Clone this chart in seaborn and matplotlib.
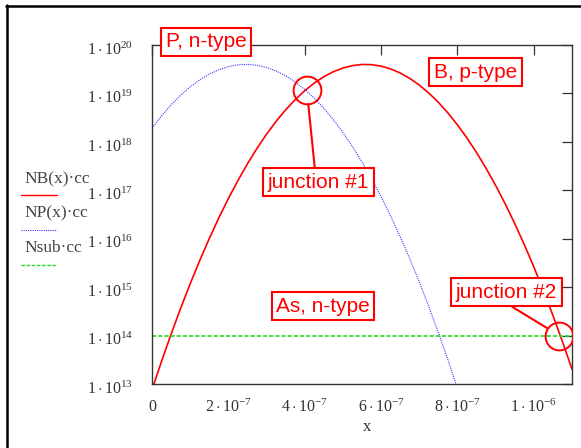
import numpy as np
import pandas as pd
import matplotlib
matplotlib.use('Agg')
import matplotlib.pyplot as plt
from matplotlib.lines import Line2D
from matplotlib.transforms import ScaledTranslation
import seaborn as sns

# ========== data ==========
# x in units of 1e-7 m, concentrations as log10(cm^-3)
x_nb_e7 = [0.0, 0.25, 0.5, 0.75, 1.0, 1.25, 1.5, 1.75, 2.0, 2.25, 2.5, 2.75, 3.0, 3.25,
           3.5, 3.75, 4.0, 4.25, 4.5, 4.75, 5.0, 5.25, 5.5, 5.75, 6.0, 6.25, 6.5, 6.75,
           7.0, 7.25, 7.5, 7.75, 8.0, 8.25, 8.5, 8.75, 9.0, 9.25, 9.5, 9.75, 10.0,
           10.25, 10.5, 10.75, 11.0]
nb_log10 = [12.882, 13.469, 14.030, 14.563, 15.070, 15.550, 16.003, 16.430, 16.829,
            17.201, 17.547, 17.866, 18.158, 18.423, 18.661, 18.872, 19.056, 19.214,
            19.345, 19.448, 19.525, 19.575, 19.598, 19.594, 19.564, 19.506, 19.422,
            19.311, 19.173, 19.008, 18.816, 18.597, 18.351, 18.079, 17.779, 17.453,
            17.100, 16.720, 16.313, 15.879, 15.419, 14.931, 14.417, 13.875, 13.307]

x_np_e7 = [0.0, 0.25, 0.5, 0.75, 1.0, 1.25, 1.5, 1.75, 2.0, 2.25, 2.5, 2.75, 3.0, 3.25,
           3.5, 3.75, 4.0, 4.25, 4.5, 4.75, 5.0, 5.25, 5.5, 5.75, 6.0, 6.25, 6.5, 6.75,
           7.0, 7.25, 7.5, 7.75, 8.0]
np_log10 = [18.281, 18.535, 18.763, 18.963, 19.135, 19.281, 19.399, 19.490, 19.554,
            19.590, 19.600, 19.582, 19.536, 19.464, 19.364, 19.237, 19.083, 18.902,
            18.693, 18.457, 18.194, 17.903, 17.585, 17.240, 16.868, 16.469, 16.042,
            15.588, 15.107, 14.598, 14.062, 13.499, 12.909]

x_sub_e7 = [0.0, 11.0]
nsub_log10 = [14.0, 14.0]

junction_x_e7 = [4.055, 10.67]
junction_log10 = [19.07, 14.0]

x_ticks = [0, 2e-7, 4e-7, 6e-7, 8e-7, 1e-6]
x_tick_labels = ['0', r'$2\cdot10^{-7}$', r'$4\cdot10^{-7}$', r'$6\cdot10^{-7}$',
                 r'$8\cdot10^{-7}$', r'$1\cdot10^{-6}$']
y_exponents = [13, 14, 15, 16, 17, 18, 19, 20]

df_nb = pd.DataFrame({'x': np.array(x_nb_e7) * 1e-7, 'conc': 10.0 ** np.array(nb_log10)})
df_np = pd.DataFrame({'x': np.array(x_np_e7) * 1e-7, 'conc': 10.0 ** np.array(np_log10)})
df_sub = pd.DataFrame({'x': np.array(x_sub_e7) * 1e-7, 'conc': 10.0 ** np.array(nsub_log10)})

# ========== style ==========
sns.set_style('white')
plt.rcParams['font.family'] = ['Liberation Serif', 'DejaVu Serif']
plt.rcParams['mathtext.fontset'] = 'custom'
plt.rcParams['mathtext.rm'] = 'Liberation Serif'
plt.rcParams['mathtext.it'] = 'Liberation Serif:italic'

W, H = 581, 448
fig = plt.figure(figsize=(W / 100, H / 100), dpi=100)
ax = fig.add_axes([152 / W, (H - 384) / H, 420 / W, 339 / H])

red = '#ff0000'
blue = '#3838ff'
green = '#22dd22'
gray = '#333333'

sns.lineplot(data=df_nb, x='x', y='conc', ax=ax, color=red, linewidth=1.2)
sns.lineplot(data=df_np, x='x', y='conc', ax=ax, color=blue, linewidth=0.8,
             linestyle=(0, (1, 1)))
sns.lineplot(data=df_sub, x='x', y='conc', ax=ax, color=green, linewidth=1.2,
             linestyle=(0, (2.5, 1.2)))

ax.set_yscale('log')
ax.set_xlim(0, 1.1e-6)
ax.set_ylim(1e13, 1e20)
ax.set_xticks(x_ticks)
ax.set_xticklabels(x_tick_labels)
ax.set_yticks([10.0 ** e for e in y_exponents])
ax.set_yticklabels([r'$1\cdot10^{%d}$' % e for e in y_exponents])
ax.yaxis.set_minor_locator(matplotlib.ticker.NullLocator())
ax.tick_params(axis='both', which='major', direction='in', length=7.2, width=0.9,
               color=gray, labelcolor=gray, labelsize=11.5)
ax.tick_params(axis='x', top=True, pad=10.5)
ax.tick_params(axis='y', right=True, pad=13.5)
for s in ax.spines.values():
    s.set_color(gray)
    s.set_linewidth(1.0)

# Mathcad puts the mantissa a little below the tick
shift = ScaledTranslation(0, -3 / 100, fig.dpi_scale_trans)
for lab in ax.get_yticklabels():
    lab.set_transform(lab.get_transform() + shift)

ax.set_ylabel('')
ax.set_xlabel('x', fontsize=12, color=gray)
ax.xaxis.set_label_coords((367 - 152) / 420, (384 - 431) / 339)
ax.xaxis.label.set_va('baseline')

# junction circles
ax.plot(np.array(junction_x_e7) * 1e-7, 10.0 ** np.array(junction_log10), linestyle='none',
        marker='o', markersize=20, markerfacecolor='none', markeredgecolor=red,
        markeredgewidth=1.4, zorder=5)

box = dict(boxstyle='square,pad=0.22', fc='white', ec=red, lw=1.5)
lab_font = dict(fontsize=15, color=red, family=['Liberation Sans', 'DejaVu Sans'])


def fx(px):
    return px / W


def fy(py):
    return (H - py) / H


fig.text(fx(206), fy(41.7), 'P, n-type', ha='center', va='center', bbox=box, **lab_font)
fig.text(fx(475.5), fy(72), 'B, p-type', ha='center', va='center', bbox=box, **lab_font)
fig.text(fx(323), fy(306), 'As, n-type', ha='center', va='center', bbox=box, **lab_font)

ax.annotate('junction #1', xy=(junction_x_e7[0] * 1e-7, 10.0 ** junction_log10[0]),
            xytext=(318.3, H - 182), textcoords='figure pixels', ha='center', va='center',
            bbox=box, arrowprops=dict(arrowstyle='-', color=red, lw=1.5, relpos=(0.47, 1.0),
                                      shrinkA=0, shrinkB=10), zorder=6, **lab_font)
ax.annotate('junction #2', xy=(junction_x_e7[1] * 1e-7, 10.0 ** junction_log10[1]),
            xytext=(506.5, H - 292), textcoords='figure pixels', ha='center', va='center',
            bbox=box, arrowprops=dict(arrowstyle='-', color=red, lw=1.5, relpos=(0.47, 0.0),
                                      shrinkA=0, shrinkB=10), zorder=6, **lab_font)

# legend in the Mathcad layout: name above a line sample
leg_font = dict(fontsize=12.5, color='#444444', ha='left', va='center')
fig.text(fx(24), fy(179), 'NB(x)·cc', **leg_font)
fig.text(fx(24), fy(213), 'NP(x)·cc', **leg_font)
fig.text(fx(24), fy(247.5), 'Nsub·cc', **leg_font)
fig.add_artist(Line2D([fx(21), fx(57)], [fy(195), fy(195)], color=red, lw=1.0))
fig.add_artist(Line2D([fx(21), fx(57)], [fy(230), fy(230)], color=blue, lw=0.8,
                      linestyle=(0, (1, 1))))
fig.add_artist(Line2D([fx(21), fx(57)], [fy(265), fy(265)], color=green, lw=1.0,
                      linestyle=(0, (2.5, 1.2))))

# outer frame (left and top edges)
fig.add_artist(Line2D([fx(7), fx(7)], [fy(5), 0], color='black', lw=1.8))
fig.add_artist(Line2D([fx(6), 1], [fy(6), fy(6)], color='black', lw=1.8))

plt.savefig('out.png', dpi=100)
